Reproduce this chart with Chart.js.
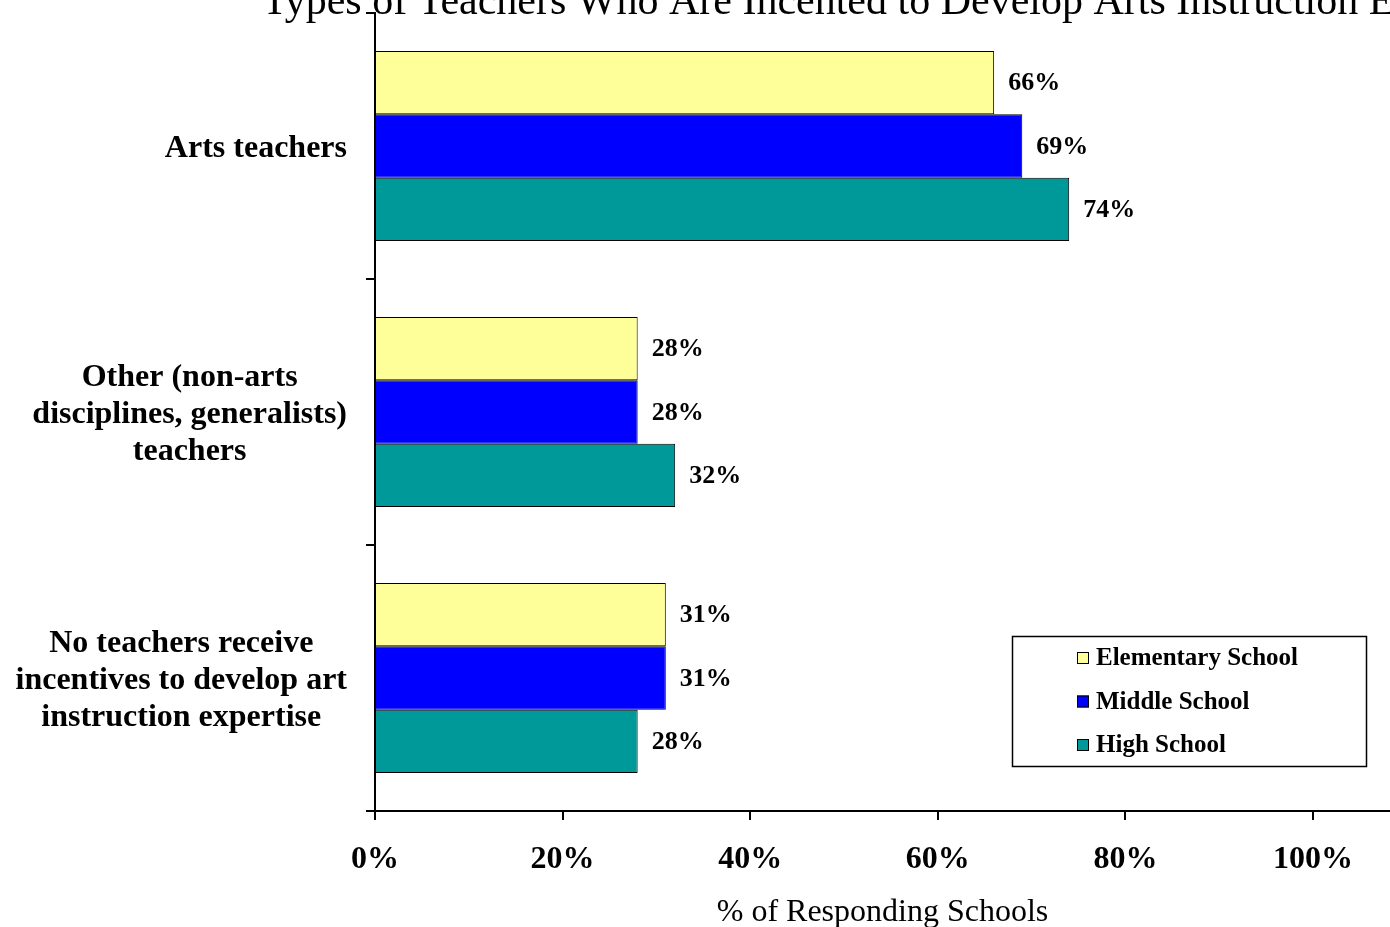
<!DOCTYPE html>
<html>
<head>
<meta charset="utf-8">
<script src="https://cdn.jsdelivr.net/npm/chart.js@4.4.0/dist/chart.umd.min.js"></script>
<style>
  html, body { margin: 0; padding: 0; background: #fff; overflow: hidden; }
  #wrap { position: relative; width: 1390px; height: 927px; }
</style>
</head>
<body>
<div id="wrap"><canvas id="chart" width="1390" height="927"></canvas></div>
<script>
const chartTitle  = 'Types of Teachers Who Are Incented to Develop Arts Instruction Expertise';
const categories  = [
  ['Arts teachers'],
  ['Other (non-arts', 'disciplines, generalists)', 'teachers'],
  ['No teachers receive', 'incentives to develop art', 'instruction expertise']
];
const seriesNames = ['Elementary School', 'Middle School', 'High School'];
const elementary  = [66, 28, 31];
const middle      = [69, 28, 31];
const high        = [74, 32, 28];
const xTicks      = [0, 20, 40, 60, 80, 100];
const colors      = ['#FFFF99', '#0000FF', '#009999'];

const SERIF = "'Liberation Serif', 'Times New Roman', serif";

// title, centred category labels, value labels and boxed legend
const drawExtras = {
  id: 'drawExtras',
  afterDraw(chart) {
    const ctx = chart.ctx;
    const yScale = chart.scales.y;
    ctx.save();
    ctx.fillStyle = '#000';

    ctx.font = `42px ${SERIF}`;
    ctx.textAlign = 'left';
    ctx.textBaseline = 'alphabetic';
    ctx.fillText(chartTitle, 262, 14);

    ctx.font = `bold 32px ${SERIF}`;
    ctx.textAlign = 'center';
    ctx.textBaseline = 'middle';
    const right = chart.chartArea.left - 28;
    chart.data.labels.forEach((lines, i) => {
      const cy = yScale.getPixelForTick(i) + 3;
      const w  = Math.max(...lines.map(l => ctx.measureText(l).width));
      lines.forEach((l, j) => ctx.fillText(l, right - w / 2, cy + (j - (lines.length - 1) / 2) * 37));
    });

    ctx.font = `bold 26px ${SERIF}`;
    ctx.textAlign = 'left';
    chart.data.datasets.forEach((ds, di) => {
      chart.getDatasetMeta(di).data.forEach((bar, i) => {
        ctx.fillText(ds.data[i] + '%', bar.x + 14, bar.y + 1);
      });
    });

    const lx = 1012, ly = 636, lw = 354, lh = 130;
    ctx.fillStyle = '#fff';
    ctx.fillRect(lx, ly, lw, lh);
    ctx.strokeStyle = '#000';
    ctx.lineWidth = 1.5;
    ctx.strokeRect(lx + 0.5, ly + 0.5, lw, lh);
    ctx.font = `bold 25px ${SERIF}`;
    ctx.lineWidth = 1;
    seriesNames.forEach((name, i) => {
      const cy = ly + 22 + i * 43.5;
      ctx.fillStyle = colors[i];
      ctx.fillRect(1077, cy - 6, 12, 12);
      ctx.strokeRect(1077.5, cy - 5.5, 11, 11);
      ctx.fillStyle = '#000';
      ctx.fillText(name, 1096, cy + 1);
    });
    ctx.restore();
  }
};

new Chart(document.getElementById('chart'), {
  type: 'bar',
  data: {
    labels: categories,
    datasets: [
      { label: seriesNames[0], data: elementary, backgroundColor: colors[0] },
      { label: seriesNames[1], data: middle,     backgroundColor: colors[1] },
      { label: seriesNames[2], data: high,       backgroundColor: colors[2] }
    ].map(d => ({ ...d, borderColor: '#000', borderWidth: 1, categoryPercentage: 0.715, barPercentage: 1 }))
  },
  options: {
    indexAxis: 'y',
    responsive: false,
    animation: false,
    layout: { padding: { top: 13, right: 0, left: 0, bottom: 0 } },
    plugins: { legend: { display: false }, tooltip: { enabled: false } },
    scales: {
      x: {
        type: 'linear',
        min: 0,
        max: 108.2,
        afterBuildTicks: s => { s.ticks = xTicks.map(v => ({ value: v })); },
        afterFit: s => { s.height = 116; },
        ticks: {
          callback: v => v + '%',
          color: '#000',
          padding: 21,
          maxRotation: 0,
          font: { family: SERIF, size: 32, weight: 'bold' }
        },
        grid: { drawOnChartArea: false, color: '#000', lineWidth: 2, tickLength: 9 },
        border: { color: '#000', width: 2 },
        title: {
          display: true,
          text: '% of Responding Schools',
          color: '#000',
          padding: { top: 0, bottom: -5 },
          font: { family: SERIF, size: 32 }
        }
      },
      y: {
        afterFit: s => { s.width = 375; },
        ticks: { display: false },
        grid: { offset: true, drawOnChartArea: false, color: '#000', lineWidth: 2, tickLength: 9 },
        border: { color: '#000', width: 2 }
      }
    }
  },
  plugins: [drawExtras]
});
</script>
</body>
</html>
